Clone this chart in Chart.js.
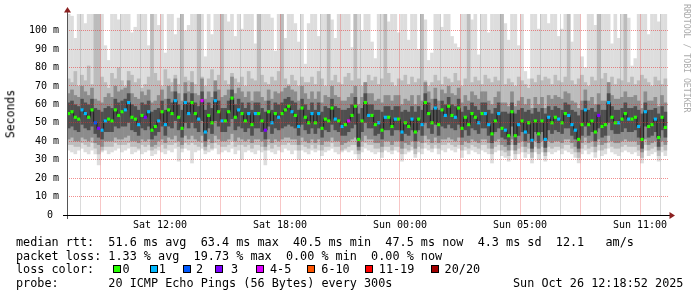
<!DOCTYPE html>
<html>
<head>
<meta charset="utf-8">
<title>SmokePing latency</title>
<script src="https://cdn.jsdelivr.net/npm/chart.js"></script>
<style>
  html, body { margin: 0; padding: 0; background: #fff; }
  #wrap { position: relative; width: 697px; height: 297px; overflow: hidden;
          font-family: 'DejaVu Sans Mono', monospace; color: #000; }
  #wrap canvas { position: absolute; left: 0; top: 0; }
  .txt { position: absolute; left: 16px; font-size: 11.8px; line-height: 14px; white-space: pre; }
  .sw { position: absolute; top: 265px; width: 6px; height: 6px; border: 1px solid #000; }
  #ytitle { position: absolute; left: 11px; top: 114px; font-size: 11.5px; line-height: 1;
            white-space: nowrap; transform: translate(-50%, -50%) rotate(-90deg); }
  #mark { position: absolute; left: 682px; top: 4px; font-size: 8.2px; line-height: 10px;
          color: #ababab; writing-mode: vertical-rl; white-space: nowrap; }
</style>
</head>
<body>
<div id="wrap">
  <canvas id="smoke"></canvas>
  <div id="ytitle">Seconds</div>
  <div id="mark">RRDTOOL / TOBI OETIKER</div>
  <div class="txt" style="top:235px">median rtt:  51.6 ms avg  63.4 ms max  40.5 ms min  47.5 ms now  4.3 ms sd  12.1   am/s</div>
  <div class="txt" style="top:248.7px">packet loss: 1.33 % avg  19.73 % max  0.00 % min  0.00 % now</div>
  <div class="txt" style="top:262.4px">loss color:</div>
  <div class="txt" style="top:276px">probe:       20 ICMP Echo Pings (56 Bytes) every 300s</div>
  <div class="txt" style="top:276px; left:513px">Sun Oct 26 12:18:52 2025</div>
</div>
<script>
// time axis: hours relative to Sat 12:00 (DST ends Sunday 03:00, so Sun 05:00 sits 18h later)
const startHour = -4.567;
const stepHours = 1 / 6;
const xLabelHours = [0, 6, 12, 18, 24];
const xLabelTexts = ['Sat 12:00', 'Sat 18:00', 'Sun 00:00', 'Sun 05:00', 'Sun 11:00'];
const hourTicks = [-4,-3,-2,-1,0,1,2,3,4,5,6,7,8,9,10,11,12,13,14,15,16,17,18,19,20,21,22,23,24,25];
const msTicks = [0,5,10,15,20,25,30,35,40,45,50,55,60,65,70,75,80,85,90,95,100,105];

const lossClasses = ['0', '1', '2', '3', '4-5', '6-10', '11-19', '20/20'];
const lossColors = ['#26ff00', '#00b8ff', '#0059ff', '#7e00ff', '#dd00ff', '#ff5500', '#ff0000', '#a10000'];

// median rtt (ms) per 10 minute column
const median = [
  55,56,53,52,57,55,53,57,50,47,46,51,52,51,57,54,56,57,61,53,52,49,54,53,56,46,48,51,56,49,57,55,62,53,47,61,
  55,61,55,52,62,45,54,50,62,56,51,51,56,63.4,53,57,55,51,55,49,55,55,51,46,56,50,55,53,55,57,59,56,54,48,58,53,
  50,55,50,55,47,52,51,58,52,51,48,49,51,54,59,41,51,61,54,54,49,50,46,53,53,48,52,52,45,50,48,52,45,52,49,61,
  55,50,58,49,57,54,59,54,53,58,47,53,49,55,53,50,55,55,49,44,51,55,47,46,43,56,43,49,51,45,50,40.5,51,44,51,41,
  53,50,53,52,50,55,54,49,46,41,49,57,49,51,45,54,48,49,61,53,50,50,52,55,52,52,53,48,41,56,48,49,52,42,53,47.5
];
// lost pings out of 20
const loss = [
  0,0,0,0,1,1,0,0,2,3,1,1,0,0,0,0,0,1,1,0,0,1,0,3,1,0,0,1,0,1,0,0,1,0,0,1,
  1,0,0,1,4,1,0,0,1,0,1,0,0,0,0,1,0,0,1,0,1,0,0,3,0,1,0,1,0,0,0,1,0,1,0,0,
  0,1,0,1,0,0,0,0,1,0,1,0,4,0,0,0,0,0,1,0,0,1,0,1,0,0,1,0,1,0,0,1,0,0,1,0,
  0,0,1,0,0,1,0,0,1,0,0,0,0,0,0,1,0,1,1,0,0,1,0,1,0,0,0,1,0,1,0,1,0,0,0,1,
  1,0,0,1,0,0,1,1,1,0,0,1,0,0,0,3,0,0,1,0,0,1,0,0,1,0,0,1,0,1,0,0,1,0,0,0
];
// smoke: outer band (slowest / fastest ping), 120 = above the top of the graph
const smokeHi1 = [
  120,108,96,120,120,104,120,120,120,120,120,92,84,120,120,106,120,120,120,99,102,120,120,120,92,120,120,103,120,88,120,120,98,107,120,100,
  103,120,120,120,120,86,120,98,120,120,120,120,105,120,97,120,101,120,120,120,93,120,120,120,120,107,89,120,120,96,120,120,104,94,120,82,
  104,120,120,97,120,120,120,106,96,120,120,120,120,91,120,120,100,120,120,94,85,120,120,120,105,120,120,99,120,120,95,120,120,90,120,106,
  84,88,120,120,102,120,120,97,93,91,120,120,120,106,120,87,120,120,99,120,120,120,120,104,95,120,120,92,120,78,74,120,120,101,120,120,
  104,120,120,97,101,120,120,94,120,120,86,80,120,120,103,120,120,120,120,93,120,96,120,120,107,81,85,120,120,120,98,120,120,105,120,120
];
const smokeLo1 = [
  35,34,33,35,36,34,33,35,33,27,34,35,33,34,35,36,34,35,36,33,34,35,33,34,35,32,33,35,34,33,35,34,36,29,34,36,
  35,28,34,35,36,33,34,35,36,33,34,35,34,36,33,35,30,34,35,34,33,35,34,27,35,34,33,35,34,36,35,33,35,30,35,34,
  33,35,34,35,32,34,35,36,34,33,34,35,34,35,33,30,34,36,35,34,33,34,31,35,34,33,35,34,29,33,34,35,31,34,33,36,
  35,34,36,33,35,34,36,35,34,36,31,35,33,35,34,33,35,34,33,28,34,35,32,31,29,35,30,33,34,31,33,28,34,30,34,29,
  34,33,34,35,33,35,34,33,31,28,33,35,33,34,31,35,32,33,36,34,33,32,34,35,34,33,34,32,28,35,32,33,34,29,34,32
];
const smokeHi2 = [
  74,72,78,70,76,73,81,71,120,118,75,72,69,77,74,80,73,70,78,76,72,74,69,71,75,120,77,73,70,79,74,72,76,71,120,75,
  73,78,71,120,75,70,74,79,72,76,120,73,71,77,74,72,75,70,78,74,73,110,76,72,71,75,73,78,120,74,71,76,73,70,75,72,
  72,75,71,78,74,70,120,73,76,72,71,75,77,73,120,74,70,72,76,73,75,71,74,120,77,72,70,74,73,76,71,75,72,74,120,73,
  70,72,76,73,71,75,74,72,77,73,70,74,120,72,75,73,71,76,74,72,75,73,120,71,74,72,70,75,73,71,69,74,72,76,73,75,
  74,71,76,73,72,75,120,73,71,74,76,72,70,75,73,120,74,77,72,75,71,74,73,120,72,75,71,73,76,74,72,70,75,73,71,74
];
const smokeLo2 = [
  38,38,37,37,39,38,37,39,36,33,35,37,37,37,39,38,38,38,39,37,37,36,38,37,38,35,36,37,38,36,38,38,39,37,36,39,
  38,39,38,37,39,35,38,36,39,38,37,37,38,40,37,38,38,37,38,36,38,38,37,35,38,36,38,37,38,38,39,38,38,35,38,37,
  36,38,36,38,35,37,37,39,37,37,35,36,37,38,38,33,37,39,38,38,36,36,34,37,37,35,37,37,33,36,35,37,33,37,36,39,
  38,36,38,36,38,38,39,38,37,38,35,37,36,38,37,36,38,38,36,33,37,38,35,34,32,38,33,36,37,34,36,31,37,33,37,32,
  37,36,37,37,36,38,38,36,34,31,36,38,36,37,34,38,35,36,39,37,36,36,37,38,37,37,37,35,31,38,35,36,37,32,37,35
];
const smokeHi3 = [
  66,68,65,64,70,67,65,69,63,62,61,64,66,64,70,67,68,69,73,66,64,63,67,65,68,61,62,65,68,63,70,67,74,66,62,72,
  67,72,66,65,74,63,67,64,73,68,64,65,68,75,66,69,67,64,67,62,67,67,64,62,68,63,67,66,67,69,70,68,67,62,70,66,
  63,67,63,67,61,65,64,70,65,64,62,62,64,66,70,60,64,72,66,66,62,63,61,65,65,62,65,65,60,63,62,65,60,65,62,72,
  67,63,69,62,68,66,70,66,65,69,61,65,62,67,65,63,67,67,62,60,64,67,61,61,59,67,59,62,64,60,63,58,64,60,64,58,
  65,63,65,64,63,67,66,62,61,58,62,68,62,64,60,66,62,62,72,65,63,63,64,67,64,64,65,62,58,67,62,62,64,59,65,61
];
const smokeLo3 = [
  41,42,40,40,42,41,40,42,39,38,37,40,40,40,42,41,41,42,43,40,40,39,41,40,41,37,38,40,41,39,42,41,43,40,38,43,
  41,43,41,40,43,37,41,39,43,41,40,40,41,44,40,42,41,40,41,39,41,41,40,37,41,39,41,40,41,42,42,41,41,38,42,40,
  39,41,39,41,38,40,40,42,40,40,38,39,40,41,42,35,40,43,41,41,39,39,37,40,40,38,40,40,36,39,38,40,36,40,39,43,
  41,39,42,39,41,41,42,41,40,42,38,40,39,41,40,39,41,41,39,36,40,41,38,37,35,41,35,39,40,37,39,34,40,36,40,34,
  40,39,40,40,39,41,41,39,37,34,39,42,39,40,37,41,38,39,43,40,39,39,40,41,40,40,40,38,34,41,38,39,40,35,40,38
];
const smokeHi4 = [
  61,62,60,59,63,61,60,63,58,57,56,58,59,58,63,61,62,63,66,60,59,57,61,60,62,56,57,58,62,57,63,61,67,60,57,66,
  61,66,61,59,67,57,61,58,67,62,58,58,62,68,60,63,61,58,61,57,61,61,58,56,62,57,61,60,61,63,64,62,61,57,63,60,
  57,61,57,61,56,59,58,63,59,58,57,57,58,60,64,55,58,66,60,60,57,57,56,59,59,57,59,59,56,57,56,59,56,59,57,66,
  61,57,63,57,62,60,64,60,59,63,56,59,57,61,59,57,61,61,57,55,58,61,56,56,55,61,55,57,58,56,57,55,58,56,58,55,
  59,57,59,58,57,61,60,57,56,54,57,62,57,58,56,60,57,57,66,59,57,57,58,61,58,58,59,57,55,61,57,57,58,55,59,56
];
const smokeLo4 = [
  47,48,46,45,49,47,46,48,44,42,41,45,45,45,48,47,48,48,50,46,45,43,47,46,48,41,43,45,48,43,48,47,51,46,42,50,
  47,50,47,45,51,40,47,44,51,48,45,45,48,52,46,48,47,45,47,43,47,47,45,41,48,44,47,46,47,48,49,48,47,43,49,46,
  44,47,44,47,42,46,45,49,46,45,43,43,45,47,49,37,45,50,47,47,43,44,41,46,46,43,46,46,40,44,43,46,40,46,43,50,
  47,44,49,43,48,47,49,47,46,49,42,46,43,47,46,44,47,47,43,39,45,47,42,41,38,48,38,43,45,40,44,36,45,39,45,36.5,
  46,44,46,45,44,47,47,43,41,36,43,48,43,45,40,47,42,43,50,46,44,44,45,47,45,45,46,42,36,48,42,43,45,37,46,42
];

// legend swatch / label positions on the "loss color" line
const swatchLeft = [113, 150, 182.7, 215.3, 256, 307.3, 365.3, 430.7];
const swatchTextLeft = [122.6, 158.8, 196, 231, 270, 321.3, 378.8, 444.6];

function lossClass(n) {
  if (n <= 3) return n;
  if (n <= 5) return 4;
  if (n <= 10) return 5;
  if (n <= 19) return 6;
  return 7;
}

const wrap = document.getElementById('wrap');
lossClasses.forEach((name, i) => {
  const sw = document.createElement('div');
  sw.className = 'sw';
  sw.style.left = swatchLeft[i] + 'px';
  sw.style.background = lossColors[i];
  wrap.appendChild(sw);
  const t = document.createElement('div');
  t.className = 'txt';
  t.style.top = '262.4px';
  t.style.left = swatchTextLeft[i] + 'px';
  t.textContent = name;
  wrap.appendChild(t);
});

const times = median.map((_, i) => startHour + i * stepHours);
const band = (lo, hi) => times.map((t, i) => ({ x: t, y: [lo[i], hi[i]] }));

const barBase = {
  type: 'bar',
  grouped: false,
  barPercentage: 1.1,
  categoryPercentage: 1,
  borderWidth: 0,
};

// axis lines and the little red arrows
const rrdAxes = {
  id: 'rrdAxes',
  afterDraw(chart) {
    const { ctx, chartArea: a } = chart;
    ctx.save();
    ctx.lineWidth = 1;
    ctx.strokeStyle = '#555';
    ctx.beginPath();
    ctx.moveTo(a.left + 0.5, a.bottom + 4);
    ctx.lineTo(a.left + 0.5, a.top - 3);
    ctx.stroke();
    ctx.strokeStyle = '#000';
    ctx.beginPath();
    ctx.moveTo(a.left - 4, a.bottom + 0.5);
    ctx.lineTo(a.right + 2, a.bottom + 0.5);
    ctx.stroke();
    ctx.fillStyle = '#8b2020';
    ctx.beginPath();
    ctx.moveTo(a.left + 0.5, a.top - 7);
    ctx.lineTo(a.left - 3, a.top - 1.5);
    ctx.lineTo(a.left + 4, a.top - 1.5);
    ctx.closePath();
    ctx.fill();
    ctx.beginPath();
    ctx.moveTo(a.right + 7, a.bottom + 0.5);
    ctx.lineTo(a.right + 1.5, a.bottom - 3);
    ctx.lineTo(a.right + 1.5, a.bottom + 4);
    ctx.closePath();
    ctx.fill();
    ctx.restore();
  },
};

const gridColor = (major) => (c) =>
  (c.tick && c.tick.value % major === 0) ? 'rgba(230,50,50,0.55)' : 'rgba(130,130,130,0.6)';
const tickFont = { family: 'DejaVu Sans Mono', size: 10 };

new Chart(document.getElementById('smoke'), {
  type: 'bar',
  data: {
    datasets: [
      {
        ...barBase,
        label: 'loss color',
        data: times.map((t, i) => ({ x: t, y: [median[i] - 0.85, median[i] + 0.85] })),
        backgroundColor: loss.map((n) => lossColors[lossClass(n)]),
        barPercentage: 0.95,
        order: 0,
      },
      {
        type: 'line',
        label: 'median rtt',
        data: times.map((t, i) => ({ x: t, y: median[i] })),
        borderColor: '#1c1c1c',
        borderWidth: 1,
        pointRadius: 0,
        stepped: 'middle',
        order: 1,
      },
      { ...barBase, label: 'smoke 4', data: band(smokeLo4, smokeHi4), backgroundColor: '#4f4f4f', order: 2 },
      { ...barBase, label: 'smoke 3', data: band(smokeLo3, smokeHi3), backgroundColor: '#8c8c8c', order: 3 },
      { ...barBase, label: 'smoke 2', data: band(smokeLo2, smokeHi2), backgroundColor: '#bcbcbc', order: 4 },
      { ...barBase, label: 'smoke 1', data: band(smokeLo1, smokeHi1), backgroundColor: '#dddddd', order: 5 },
    ],
  },
  options: {
    animation: false,
    responsive: true,
    maintainAspectRatio: false,
    layout: { padding: { top: 14, right: 29, bottom: 62, left: 0 } },
    plugins: { legend: { display: false }, tooltip: { enabled: false } },
    scales: {
      x: {
        type: 'linear',
        min: -4.65,
        max: 25.4,
        offset: false,
        afterBuildTicks: (s) => { s.ticks = hourTicks.map((v) => ({ value: v })); },
        afterFit: (s) => { s.height = 20; },
        grid: { offset: false, drawTicks: false, z: 1, lineWidth: 1, color: gridColor(3) },
        border: { display: false, dash: [1, 1], dashOffset: 0.5 },
        ticks: {
          autoSkip: false,
          maxRotation: 0,
          padding: 4,
          color: '#000',
          font: tickFont,
          callback: (v) => {
            const k = xLabelHours.indexOf(v);
            return k < 0 ? '' : xLabelTexts[k];
          },
        },
      },
      y: {
        min: 0,
        max: 109,
        afterBuildTicks: (s) => { s.ticks = msTicks.map((v) => ({ value: v })); },
        afterFit: (s) => { s.width = 67; },
        grid: { drawTicks: false, z: 1, lineWidth: 1, color: gridColor(10) },
        border: { display: false, dash: [1, 1] },
        ticks: {
          padding: 8,
          color: '#000',
          font: tickFont,
          callback: (v) => (v % 10 ? '' : (v === 0 ? '0 ' : v + ' m')),
        },
      },
    },
  },
  plugins: [rrdAxes],
});
</script>
</body>
</html>
